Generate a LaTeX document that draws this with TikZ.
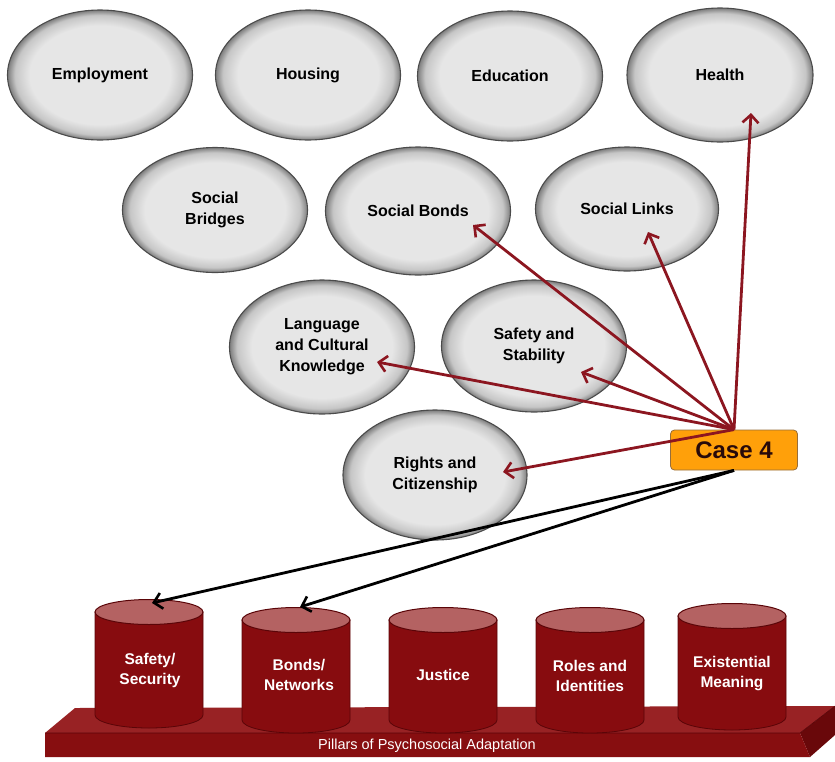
\documentclass[tikz,border=0pt]{standalone}
\usepackage{fontspec}
\setmainfont{Liberation Sans}
\usetikzlibrary{shapes.geometric,arrows.meta,calc}
\definecolor{ellin}{RGB}{230,230,230}
\definecolor{ellmid}{RGB}{198,198,198}
\definecolor{ellout}{RGB}{125,125,125}
\definecolor{ellline}{RGB}{75,75,75}
\definecolor{arrred}{RGB}{140,22,32}
\definecolor{cylred}{RGB}{135,12,15}
\definecolor{cyltop}{RGB}{180,98,98}
\definecolor{cyldark}{RGB}{90,5,8}
\definecolor{slabtop}{RGB}{152,34,36}
\definecolor{slabfront}{RGB}{135,14,16}
\definecolor{slabside}{RGB}{105,8,10}
\definecolor{caseor}{RGB}{255,160,10}
\definecolor{caseline}{RGB}{150,110,60}
\definecolor{casetext}{RGB}{40,10,10}
\pgfdeclareradialshading{ellrim}{\pgfpoint{0bp}{0bp}}{color(0bp)=(ellin); color(19bp)=(ellin); color(23bp)=(ellmid); color(25bp)=(ellout); color(50bp)=(ellout)}
\begin{document}
\begin{tikzpicture}[x=1pt,y=-1pt,
  ell/.style={ellipse, shading=ellrim, draw=ellline, line width=1.1pt, inner sep=0pt,
    minimum width=185pt, minimum height=130pt, align=center,
    font=\fontsize{16}{21}\selectfont\bfseries},
  cylbody/.style={fill=cylred, draw=cyldark, line width=0.8pt},
  cylend/.style={fill=cyltop, draw=cyldark, line width=1pt},
  cyltext/.style={text=white, align=center, font=\fontsize{15.5}{20}\selectfont\bfseries},
  redarr/.style={draw=arrred, line width=2.8pt, -{Straight Barb[length=8pt,width=16pt,line width=2.6pt]}},
  blkarr/.style={draw=black, line width=2.8pt, -{Straight Barb[length=8pt,width=16pt,line width=2.6pt]}},
  casebox/.style={rectangle, rounded corners=4pt, fill=caseor, draw=caseline, line width=0.8pt,
    minimum width=127pt, minimum height=40pt, text=casetext, font=\fontsize{24}{26}\selectfont\bfseries}
]
\useasboundingbox (0,0) rectangle (835,761);

% ellipses
\node[ell] (emp) at (100,75) {Employment};
\node[ell] (hou) at (308,75) {Housing};
\node[ell] (edu) at (510,76) {Education};
\node[ell, minimum width=186pt, minimum height=134pt] (hea) at (720,75) {Health};
\node[ell, minimum height=125pt] (bri) at (215,210) {Social\\Bridges};
\node[ell, minimum height=128pt] (bon) at (418,211) {Social Bonds};
\node[ell, minimum width=183pt, minimum height=124pt] (lin) at (627,209) {Social Links};
\node[ell, minimum height=134pt] (lan) at (322,347) {Language\\and Cultural\\Knowledge};
\node[ell, minimum height=132pt] (saf) at (534,346) {Safety and\\Stability};
\node[ell, minimum width=184pt, minimum height=130pt] (rig) at (435,475) {Rights and\\Citizenship};

% case box
\node[casebox] (case) at (734,450) {Case 4};

% arrow end points inside the ellipses
\coordinate (heaT) at ($(hea)+(31,38)$);
\coordinate (linT) at ($(lin)+(21,23)$);
\coordinate (bonT) at ($(bon)+(55,14)$);
\coordinate (safT) at ($(saf)+(47,26)$);
\coordinate (lanT) at ($(lan)+(55,15)$);
\coordinate (rigT) at ($(rig)+(68,-3)$);

\draw[redarr] (case.north) -- (heaT);
\draw[redarr] (case.north) -- (linT);
\draw[redarr] (case.north) -- (bonT);
\draw[redarr] (case.north) -- (safT);
\draw[redarr] (case.north) -- (lanT);
\draw[redarr] (case.north) -- (rigT);

% platform
\coordinate (pA) at (45,733);
\coordinate (pB) at (75,708);
\coordinate (pC) at (835,706);
\coordinate (pD) at (800,733);
\coordinate (pE) at (810,757);
\coordinate (pF) at (45,757);
\coordinate (pG) at (835,735);
\fill[slabtop] (pA) -- (pB) -- (pC) -- (pD) -- cycle;
\fill[slabside] (pD) -- (pC) -- (pG) -- (pE) -- cycle;
\fill[slabfront] (pA) -- (pD) -- (pE) -- (pF) -- cycle;
\draw[cyldark, line width=0.6pt] (pA) -- (pD) -- (pC);
\node[text=white, font=\fontsize{14.5}{16}\selectfont] (plab) at (427,746) {Pillars of Psychosocial Adaptation};

% cylinders: centre x / top-ellipse y / bottom y / name
\foreach \cx/\ty/\by/\nm in {149/612/715/c1, 296/620/720/c2, 443/620/720/c3, 590/620/720/c4, 732/616/717/c5}{
  \draw[cylbody] (\cx-54,\ty) -- (\cx-54,\by)
     arc[start angle=180, end angle=0, x radius=54, y radius=13] -- (\cx+54,\ty) -- cycle;
  \draw[cylend] (\cx,\ty) ellipse [x radius=54, y radius=12.5];
  \coordinate (\nm top) at (\cx,\ty-9);
}
\node[cyltext] (t1) at (150,670) {Safety/\\Security};
\node[cyltext] (t2) at (299,675) {Bonds/\\Networks};
\node[cyltext] (t3) at (443,675) {Justice};
\node[cyltext] (t4) at (590,676) {Roles and\\Identities};
\node[cyltext] (t5) at (732,674) {Existential\\Meaning};

\draw[blkarr] (case.south) -- ($(c1top)+(3,0)$);
\draw[blkarr] (case.south) -- ($(c2top)+(4,-4)$);
\end{tikzpicture}
\end{document}
